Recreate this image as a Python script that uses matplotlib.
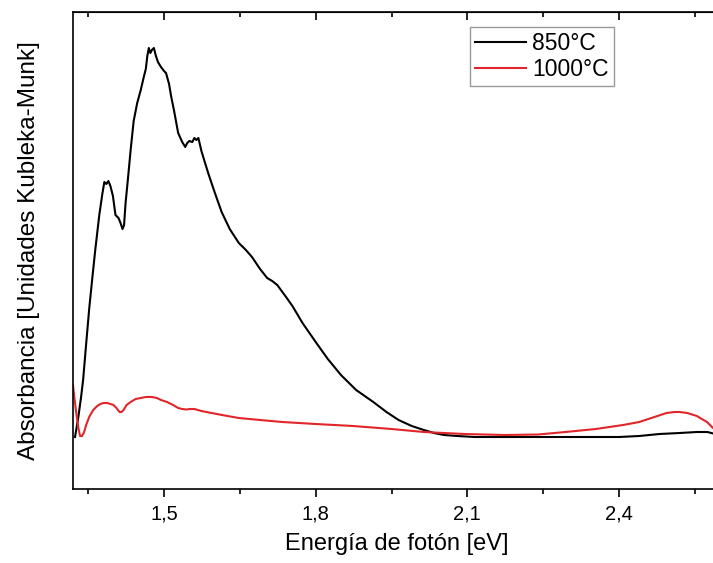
import numpy as np
import matplotlib.pyplot as plt

plt.rcParams['font.family'] = ['Liberation Sans', 'DejaVu Sans']

# Curvas (energia en eV, absorbancia en unidades arbitrarias)
e_850 = [1.324, 1.330, 1.336, 1.340, 1.346, 1.352, 1.358, 1.364, 1.372, 1.378,
         1.382, 1.386, 1.390, 1.394, 1.399, 1.404, 1.410, 1.414, 1.418, 1.421,
         1.424, 1.429, 1.434, 1.440, 1.447, 1.454, 1.460, 1.464, 1.467, 1.470,
         1.473, 1.476, 1.480, 1.484, 1.488, 1.494, 1.500, 1.504, 1.510, 1.514,
         1.520, 1.528, 1.536, 1.542, 1.546, 1.550, 1.556, 1.560, 1.564, 1.568,
         1.574, 1.580, 1.588, 1.600, 1.614, 1.630, 1.648, 1.662, 1.674, 1.690,
         1.704, 1.714, 1.724, 1.740, 1.754, 1.774, 1.800, 1.824, 1.850, 1.880,
         1.914, 1.940, 1.964, 1.990, 2.014, 2.034, 2.054, 2.080, 2.114, 2.200,
         2.300, 2.400, 2.440, 2.480, 2.520, 2.554, 2.575, 2.590, 2.600]
a_850 = [0.52, 0.70, 0.92, 1.09, 1.45, 1.80, 2.10, 2.39, 2.74, 2.95,
         3.07, 3.05, 3.08, 3.03, 2.93, 2.74, 2.71, 2.66, 2.60, 2.64,
         2.86, 3.12, 3.39, 3.68, 3.86, 3.99, 4.12, 4.20, 4.33, 4.41,
         4.36, 4.39, 4.41, 4.33, 4.27, 4.22, 4.18, 4.16, 4.05, 3.93,
         3.78, 3.56, 3.47, 3.42, 3.46, 3.48, 3.47, 3.51, 3.49, 3.51,
         3.38, 3.28, 3.15, 2.97, 2.77, 2.60, 2.46, 2.39, 2.32, 2.20,
         2.11, 2.08, 2.04, 1.93, 1.83, 1.66, 1.47, 1.30, 1.14, 0.99,
         0.87, 0.77, 0.69, 0.63, 0.59, 0.56, 0.54, 0.53, 0.52, 0.52,
         0.52, 0.52, 0.53, 0.55, 0.56, 0.57, 0.57, 0.55, 0.54]

e_1000 = [1.320, 1.323, 1.327, 1.331, 1.334, 1.338, 1.342, 1.346, 1.352, 1.360,
          1.368, 1.374, 1.380, 1.388, 1.394, 1.400, 1.406, 1.412, 1.416, 1.420,
          1.426, 1.434, 1.444, 1.454, 1.464, 1.476, 1.486, 1.494, 1.506, 1.518,
          1.528, 1.536, 1.544, 1.552, 1.560, 1.574, 1.594, 1.620, 1.648, 1.690,
          1.734, 1.800, 1.874, 1.950, 2.014, 2.094, 2.174, 2.240, 2.294, 2.354,
          2.408, 2.440, 2.464, 2.494, 2.510, 2.520, 2.535, 2.554, 2.574, 2.590,
          2.600]
a_1000 = [1.04, 0.90, 0.74, 0.60, 0.53, 0.53, 0.57, 0.64, 0.72, 0.79,
          0.83, 0.85, 0.86, 0.86, 0.85, 0.84, 0.81, 0.77, 0.77, 0.79,
          0.84, 0.87, 0.90, 0.91, 0.92, 0.92, 0.91, 0.89, 0.87, 0.84,
          0.81, 0.80, 0.795, 0.80, 0.80, 0.78, 0.76, 0.735, 0.71, 0.69,
          0.67, 0.65, 0.63, 0.60, 0.57, 0.55, 0.54, 0.545, 0.57, 0.60,
          0.64, 0.67, 0.71, 0.76, 0.77, 0.77, 0.76, 0.73, 0.67, 0.59,
          0.54]

ticks = [1.5, 1.8, 2.1, 2.4]
tick_labels = ['1,5', '1,8', '2,1', '2,4']
minor_ticks = [1.35, 1.65, 1.95, 2.25, 2.55]

fig = plt.figure(figsize=(7.13, 5.63), dpi=100)
ax = fig.add_axes([73 / 713, 1 - 489 / 563, 1 - 73 / 713 + 0.01, (489 - 12) / 563])

ax.plot(e_850, a_850, color='black', lw=1.5, label='850°C')
ax.plot(e_1000, a_1000, color='#e0262a', lw=1.5, label='1000°C')

ax.set_xlim(1.32, 2.6)
ax.set_ylim(0, 4.77)
ax.set_yticks([])
ax.set_xticks(ticks)
ax.set_xticklabels(tick_labels, fontsize=14.5)
ax.set_xticks(minor_ticks, minor=True)
ax.tick_params(axis='x', which='major', direction='out', length=6, width=1.2, pad=5)
ax.tick_params(axis='x', which='minor', direction='out', length=3.5, width=1.2)
for s in ax.spines.values():
    s.set_linewidth(1.2)
ax.spines['right'].set_visible(False)

top = ax.secondary_xaxis('top')
top.set_xticks(ticks)
top.set_xticks(minor_ticks, minor=True)
top.tick_params(which='major', direction='in', length=6, width=1.2, labeltop=False)
top.tick_params(which='minor', direction='in', length=3.5, width=1.2)
top.set_xticklabels([])

ax.set_xlabel('Energía de fotón [eV]', fontsize=17, labelpad=7)
ax.set_ylabel('Absorbancia [Unidades Kubleka-Munk]', fontsize=17.5, labelpad=24)

leg = ax.legend(loc='upper right', bbox_to_anchor=(614 / 713, 1 - 27 / 563), bbox_transform=fig.transFigure,
                fontsize=16.5, fancybox=False, framealpha=1, edgecolor='#999999',
                handlelength=2.2, borderpad=0.22, labelspacing=0.12, handletextpad=0.3,
                borderaxespad=0)
leg.get_frame().set_linewidth(1.0)

fig.savefig('out.png', dpi=100)
